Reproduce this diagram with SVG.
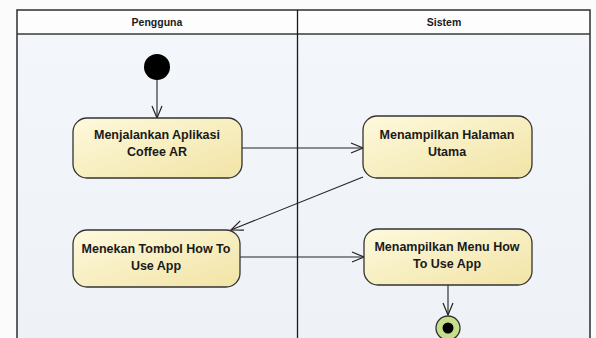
<svg xmlns="http://www.w3.org/2000/svg" width="596" height="338" viewBox="0 0 596 338">
  <defs>
    <linearGradient id="laneFill" x1="0" y1="0" x2="0" y2="1">
      <stop offset="0" stop-color="#f3f6fa"/>
      <stop offset="1" stop-color="#eef2f7"/>
    </linearGradient>
    <linearGradient id="actFill" x1="0" y1="0" x2="1" y2="1">
      <stop offset="0" stop-color="#fdf9dc"/>
      <stop offset="1" stop-color="#f2e4a6"/>
    </linearGradient>
    <marker id="open" viewBox="0 0 14 12" refX="13" refY="6" markerWidth="14" markerHeight="12" markerUnits="userSpaceOnUse" orient="auto">
      <path d="M1,1 L13,6 L1,11" fill="none" stroke="#222" stroke-width="1.2"/>
    </marker>
  </defs>
  <style>
    .frame { fill: none; stroke: #3a3a3a; stroke-width: 1.6; }
    .act { fill: url(#actFill); stroke: #333; stroke-width: 1.3; }
    .lbl { font-family: "Liberation Sans", Arial, sans-serif; font-size: 12.5px; font-weight: bold; fill: #1a1a1a; text-anchor: middle; }
    .hdr { font-family: "Liberation Sans", Arial, sans-serif; font-size: 10.5px; font-weight: bold; fill: #1a1a1a; text-anchor: middle; }
    .flow { fill: none; stroke: #222; stroke-width: 1.1; marker-end: url(#open); }
  </style>

  <rect width="596" height="338" fill="#fbfbfb"/>

  <!-- swimlane frame -->
  <g id="lanes">
    <rect x="17" y="10" width="573" height="24" fill="#fdfdfd"/>
    <rect x="17" y="34" width="573" height="310" fill="url(#laneFill)"/>
    <rect class="frame" x="17" y="10" width="573" height="340"/>
    <line class="frame" x1="17" y1="34" x2="590" y2="34"/>
    <line x1="297.5" y1="10" x2="297.5" y2="338" stroke="#1a1a1a" stroke-width="1.3"/>
    <text class="hdr" x="157" y="26">Pengguna</text>
    <text class="hdr" x="444" y="26">Sistem</text>
  </g>

  <!-- connectors -->
  <g id="connectors">
    <line class="flow" x1="157" y1="79" x2="157" y2="118"/>
    <line class="flow" x1="242" y1="148" x2="363" y2="148"/>
    <line class="flow" x1="363" y1="177" x2="231" y2="230"/>
    <line class="flow" x1="240" y1="257" x2="364" y2="257"/>
    <line class="flow" x1="448" y1="285" x2="448" y2="315"/>
  </g>

  <g id="start">
    <circle cx="157" cy="67" r="13" fill="#000"/>
  </g>

  <g id="menjalankan">
    <rect class="act" x="73" y="118" width="169" height="60" rx="14"/>
    <text class="lbl" x="157" y="139">Menjalankan Aplikasi</text>
    <text class="lbl" x="157" y="156">Coffee AR</text>
  </g>

  <g id="halaman-utama">
    <rect class="act" x="363" y="116" width="169" height="62" rx="14"/>
    <text class="lbl" x="447" y="139">Menampilkan Halaman</text>
    <text class="lbl" x="447" y="156">Utama</text>
  </g>

  <g id="menekan">
    <rect class="act" x="73" y="230" width="167" height="57" rx="14"/>
    <text class="lbl" x="156" y="253">Menekan Tombol How To</text>
    <text class="lbl" x="156" y="270">Use App</text>
  </g>

  <g id="menu-how-to">
    <rect class="act" x="364" y="229" width="168" height="56" rx="14"/>
    <text class="lbl" x="447" y="251">Menampilkan Menu How</text>
    <text class="lbl" x="447" y="268">To Use App</text>
  </g>

  <g id="end">
    <circle cx="448" cy="328" r="12" fill="#c6df8c" stroke="#333" stroke-width="1.3"/>
    <circle cx="448" cy="328" r="5.5" fill="#000"/>
  </g>
</svg>
